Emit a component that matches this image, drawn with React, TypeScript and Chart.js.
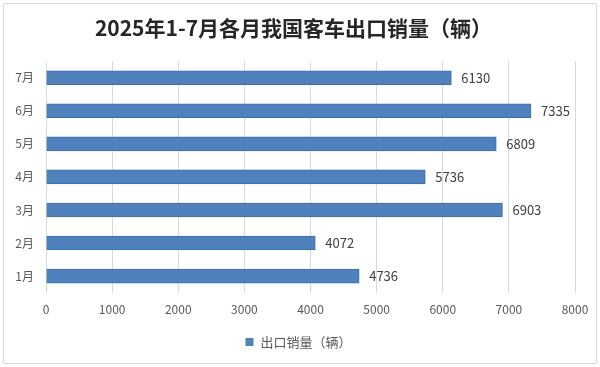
import React, { useEffect, useRef } from "react";
import { Chart, registerables } from "chart.js";

Chart.register(...registerables);

const categories = ["7月", "6月", "5月", "4月", "3月", "2月", "1月"];
const salesValues = [6130, 7335, 6809, 5736, 6903, 4072, 4736];
const seriesLabel = "出口销量（辆）";
const titleText = "2025年1-7月各月我国客车出口销量（辆）";
const xMin = 0;
const xMax = 8000;
const xStep = 1000;

const FONT = "'Noto Sans CJK SC', 'Noto Sans', sans-serif";
const BAR_COLOR = "#4F81BD";

const valueLabelPlugin = {
  id: "valueLabels",
  afterDatasetsDraw(chart: any) {
    const ctx = chart.ctx;
    const meta = chart.getDatasetMeta(0);
    const data = chart.data.datasets[0].data as number[];
    ctx.save();
    ctx.font = `13px ${FONT}`;
    ctx.fillStyle = "#404040";
    ctx.textAlign = "left";
    ctx.textBaseline = "middle";
    meta.data.forEach((bar: any, i: number) => {
      ctx.fillText(String(data[i]), bar.x + 10, bar.y);
    });
    ctx.restore();
  },
};

const bottomLegendPlugin = {
  id: "bottomLegend",
  afterDraw(chart: any) {
    const ctx = chart.ctx;
    const ds = chart.data.datasets[0];
    ctx.save();
    ctx.font = `13px ${FONT}`;
    const textW = ctx.measureText(ds.label).width;
    const boxSize = 8;
    const gap = 7;
    const total = boxSize + gap + textW;
    const cx = (chart.chartArea.left + chart.chartArea.right) / 2 - 12;
    const x0 = cx - total / 2;
    const y = 342;
    ctx.fillStyle = ds.backgroundColor;
    ctx.fillRect(x0, y - boxSize / 2, boxSize, boxSize);
    ctx.fillStyle = "#595959";
    ctx.textAlign = "left";
    ctx.textBaseline = "middle";
    ctx.fillText(ds.label, x0 + boxSize + gap, y);
    ctx.restore();
  },
};

export default function App() {
  const canvasRef = useRef<HTMLCanvasElement | null>(null);

  useEffect(() => {
    document.body.style.margin = "0";
    const canvas = canvasRef.current;
    if (!canvas) return;
    const chart = new Chart(canvas, {
      type: "bar",
      data: {
        labels: categories,
        datasets: [
          {
            label: seriesLabel,
            data: salesValues,
            backgroundColor: BAR_COLOR,
            borderColor: "#3C6EAA",
            borderWidth: 1,
            barThickness: 14,
          },
        ],
      },
      options: {
        indexAxis: "y",
        animation: false,
        responsive: false,
        maintainAspectRatio: false,
        layout: { padding: { left: 12, right: 25, top: 0, bottom: 40 } },
        scales: {
          x: {
            min: xMin,
            max: xMax,
            ticks: {
              stepSize: xStep,
              color: "#595959",
              font: { family: FONT, size: 12 },
              padding: 10,
              callback: (v: any) => String(v),
            },
            grid: { color: "#d9d9d9", drawTicks: false },
            border: { display: false },
          },
          y: {
            ticks: {
              color: "#595959",
              font: { family: FONT, size: 12 },
              padding: 12,
            },
            grid: { display: false, drawTicks: false },
            border: { display: false },
            afterFit(scale: any) {
              scale.width = 34;
            },
          },
        },
        plugins: {
          title: {
            display: true,
            text: titleText,
            color: "#262626",
            font: { family: FONT, size: 21, weight: "bold" },
            padding: { top: 15, bottom: 21 },
          },
          legend: { display: false },
          tooltip: { enabled: false },
        },
      },
      plugins: [valueLabelPlugin, bottomLegendPlugin],
    });
    return () => chart.destroy();
  }, []);

  return (
    <div style={{ position: "relative", width: 600, height: 367, background: "#fff" }}>
      <canvas ref={canvasRef} width={600} height={367} style={{ display: "block" }} />
      <div
        style={{
          position: "absolute",
          left: 3,
          top: 3,
          width: 592,
          height: 359,
          border: "1px solid #d9d9d9",
          borderRadius: 2,
          pointerEvents: "none",
        }}
      />
    </div>
  );
}
